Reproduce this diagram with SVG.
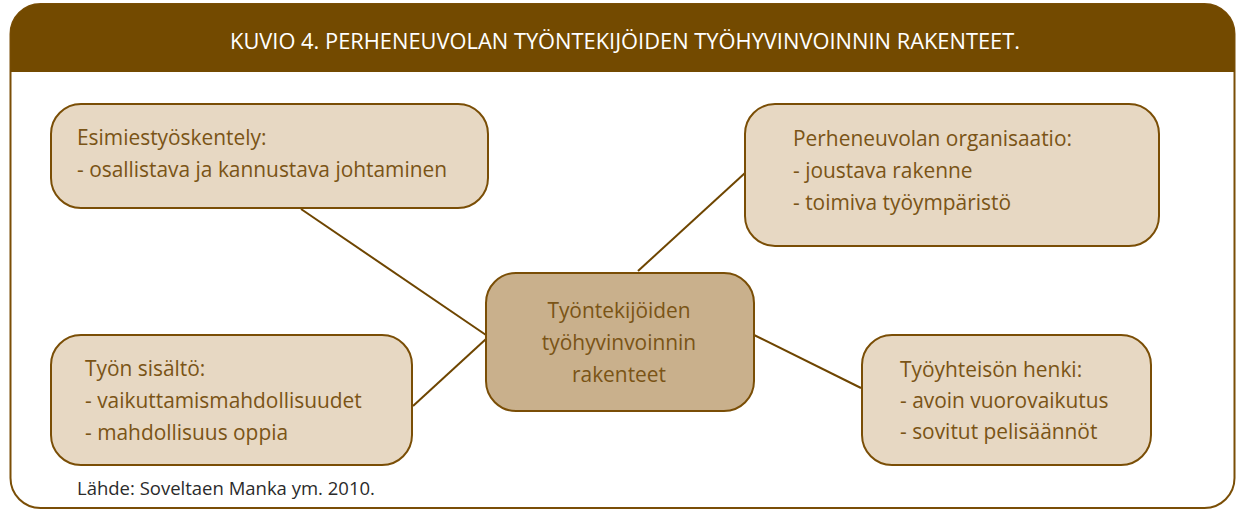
<svg xmlns="http://www.w3.org/2000/svg" width="1238" height="510" viewBox="0 0 1238 510">
<style>
.box{fill:#e7d8c3;stroke:#7a4e06;stroke-width:2}
.center{fill:#c9b08c;stroke:#7a4e06;stroke-width:2}
.t{font-family:"Open Sans","Noto Sans",sans-serif;font-size:20.9px;fill:#7a5416}
.conn line{stroke:#6e4500;stroke-width:2}
</style>
<rect x="0" y="0" width="1238" height="510" fill="#ffffff"/>
<g id="frame">
<rect x="10.5" y="4" width="1224" height="504" rx="30" fill="#ffffff" stroke="#7a4e06" stroke-width="2"/>
<path d="M10.5,72 V34 A30,30 0 0 1 40.5,4 H1204.5 A30,30 0 0 1 1234.5,34 V72 Z" fill="#734a00"/>
<text x="625" y="49" text-anchor="middle" font-family="'Liberation Sans Narrow','Open Sans',sans-serif" font-size="21" fill="#ffffff" textLength="790" lengthAdjust="spacingAndGlyphs">KUVIO 4. PERHENEUVOLAN TYÖNTEKIJÖIDEN TYÖHYVINVOINNIN RAKENTEET.</text>
</g>
<g id="connectors" class="conn">
<line x1="301" y1="209" x2="486" y2="335"/>
<line x1="413" y1="406" x2="486" y2="339"/>
<line x1="638" y1="271" x2="745" y2="173"/>
<line x1="754" y1="335" x2="861" y2="388"/>
</g>
<g id="node-esimies">
<rect class="box" x="51" y="104" width="437" height="104" rx="30"/>
<text class="t" x="77" y="145">Esimiestyöskentely:</text>
<text class="t" x="77" y="177">- osallistava ja kannustava johtaminen</text>
</g>
<g id="node-organisaatio">
<rect class="box" x="745" y="104" width="414" height="142" rx="30"/>
<text class="t" x="793" y="146">Perheneuvolan organisaatio:</text>
<text class="t" x="793" y="178">- joustava rakenne</text>
<text class="t" x="793" y="210">- toimiva työympäristö</text>
</g>
<g id="node-center">
<rect class="center" x="486" y="273" width="268" height="138" rx="30"/>
<text class="t" x="619" y="318" text-anchor="middle">Työntekijöiden</text>
<text class="t" x="619" y="350" text-anchor="middle">työhyvinvoinnin</text>
<text class="t" x="619" y="382" text-anchor="middle">rakenteet</text>
</g>
<g id="node-sisalto">
<rect class="box" x="51" y="335" width="361" height="130" rx="30"/>
<text class="t" x="85" y="376">Työn sisältö:</text>
<text class="t" x="85" y="408">- vaikuttamismahdollisuudet</text>
<text class="t" x="85" y="440">- mahdollisuus oppia</text>
</g>
<g id="node-henki">
<rect class="box" x="862" y="335" width="289" height="130" rx="30"/>
<text class="t" x="900" y="377">Työyhteisön henki:</text>
<text class="t" x="900" y="408">- avoin vuorovaikutus</text>
<text class="t" x="900" y="439">- sovitut pelisäännöt</text>
</g>
<text x="77" y="495" font-family="'Open Sans','Noto Sans',sans-serif" font-size="18.5" fill="#2b2b2b">Lähde: Soveltaen Manka ym. 2010.</text>
</svg>
